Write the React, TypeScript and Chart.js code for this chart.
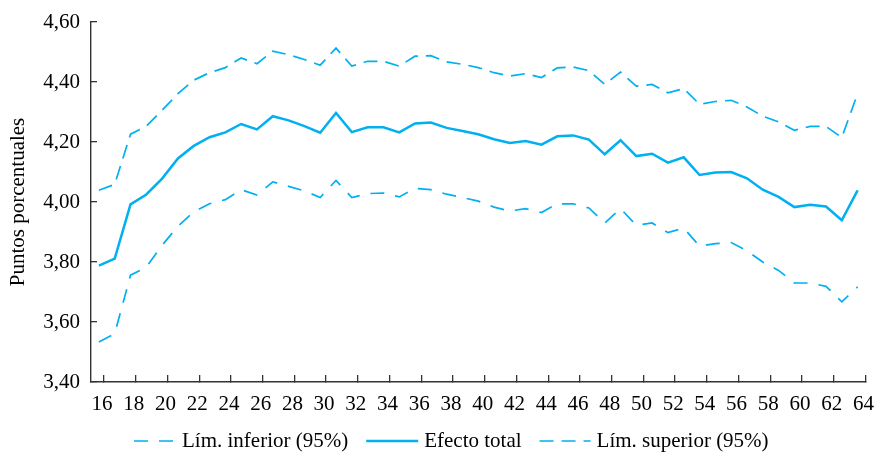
import { useEffect, useRef } from 'react';
import { Chart, registerables } from 'chart.js';

Chart.register(...registerables);

const ages = [16, 17, 18, 19, 20, 21, 22, 23, 24, 25, 26, 27, 28, 29, 30, 31, 32, 33, 34, 35, 36, 37, 38, 39, 40, 41, 42, 43, 44, 45, 46, 47, 48, 49, 50, 51, 52, 53, 54, 55, 56, 57, 58, 59, 60, 61, 62, 63, 64];

const lowerBound = [3.533, 3.561, 3.756, 3.783, 3.856, 3.919, 3.967, 3.994, 4.008, 4.041, 4.023, 4.067, 4.052, 4.037, 4.015, 4.072, 4.015, 4.028, 4.030, 4.017, 4.045, 4.041, 4.026, 4.015, 4.003, 3.983, 3.970, 3.978, 3.965, 3.994, 3.994, 3.980, 3.930, 3.978, 3.922, 3.930, 3.898, 3.913, 3.853, 3.861, 3.865, 3.837, 3.800, 3.772, 3.730, 3.730, 3.719, 3.667, 3.717];

const totalEffect = [3.788, 3.811, 3.992, 4.025, 4.078, 4.145, 4.187, 4.216, 4.232, 4.260, 4.242, 4.286, 4.272, 4.253, 4.231, 4.297, 4.233, 4.249, 4.249, 4.232, 4.262, 4.265, 4.247, 4.237, 4.226, 4.209, 4.197, 4.203, 4.191, 4.219, 4.222, 4.208, 4.159, 4.206, 4.153, 4.161, 4.131, 4.149, 4.090, 4.098, 4.100, 4.079, 4.041, 4.017, 3.983, 3.991, 3.985, 3.939, 4.039];

const upperBound = [4.039, 4.059, 4.226, 4.253, 4.306, 4.361, 4.406, 4.431, 4.448, 4.480, 4.461, 4.503, 4.491, 4.475, 4.456, 4.513, 4.453, 4.469, 4.469, 4.453, 4.486, 4.488, 4.467, 4.459, 4.448, 4.431, 4.420, 4.428, 4.415, 4.447, 4.450, 4.438, 4.392, 4.433, 4.386, 4.392, 4.364, 4.378, 4.326, 4.335, 4.339, 4.317, 4.286, 4.267, 4.239, 4.252, 4.252, 4.215, 4.361];

const xTickValues = [16, 18, 20, 22, 24, 26, 28, 30, 32, 34, 36, 38, 40, 42, 44, 46, 48, 50, 52, 54, 56, 58, 60, 62, 64];
const yTickValues = [3.4, 3.6, 3.8, 4.0, 4.2, 4.4, 4.6];

const seriesNames = ['Lím. inferior (95%)', 'Efecto total', 'Lím. superior (95%)'];
const yAxisTitle = 'Puntos porcentuales';

const FONT = '"Liberation Serif", "Times New Roman", serif';
const LINE_COLOR = '#00B0F0';
const AXIS_COLOR = '#333333';

const bottomLegend = {
  id: 'bottomLegend',
  afterDraw(chart: any) {
    const { ctx } = chart;
    const y = 441;
    const sampleWidths = [42, 52, 51];
    let x = 134;
    ctx.save();
    ctx.font = `21px ${FONT}`;
    ctx.textBaseline = 'middle';
    ctx.textAlign = 'left';
    chart.data.datasets.forEach((ds: any, i: number) => {
      ctx.save();
      ctx.strokeStyle = ds.borderColor;
      ctx.lineWidth = ds.borderWidth;
      ctx.setLineDash(ds.borderDash || []);
      ctx.beginPath();
      ctx.moveTo(x, y);
      ctx.lineTo(x + sampleWidths[i], y);
      ctx.stroke();
      ctx.restore();
      x += sampleWidths[i] + 6;
      ctx.fillStyle = '#000';
      ctx.fillText(ds.label, x, y);
      x += ctx.measureText(ds.label).width + 18;
    });
    ctx.restore();
  },
};

export default function App() {
  const canvasRef = useRef<HTMLCanvasElement | null>(null);

  useEffect(() => {
    if (!canvasRef.current) return;
    Chart.defaults.font.family = FONT;
    const toPoints = (vals: number[]) => ages.map((a, i) => ({ x: a, y: vals[i] }));
    const chart = new Chart(canvasRef.current, {
      type: 'line',
      data: {
        datasets: [
          {
            label: seriesNames[0],
            data: toPoints(lowerBound),
            borderColor: LINE_COLOR,
            borderWidth: 1.7,
            borderDash: [14, 11],
            pointRadius: 0,
            fill: false,
            tension: 0,
            xAxisID: 'x',
            yAxisID: 'y',
          },
          {
            label: seriesNames[1],
            data: toPoints(totalEffect),
            borderColor: LINE_COLOR,
            borderWidth: 2.5,
            pointRadius: 0,
            fill: false,
            tension: 0,
            xAxisID: 'x',
            yAxisID: 'y',
          },
          {
            label: seriesNames[2],
            data: toPoints(upperBound),
            borderColor: LINE_COLOR,
            borderWidth: 1.7,
            borderDash: [14, 8],
            pointRadius: 0,
            fill: false,
            tension: 0,
            xAxisID: 'x',
            yAxisID: 'y',
          },
        ],
      },
      options: {
        animation: false,
        responsive: false,
        layout: { padding: { top: 22, right: 8.5, bottom: 0, left: 0 } },
        plugins: {
          legend: { display: false },
          tooltip: { enabled: false },
        },
        scales: {
          x: {
            type: 'linear',
            display: false,
            min: 15.5,
            max: 64.5,
          },
          x2: {
            type: 'linear',
            position: 'bottom',
            min: 15.18,
            max: 64,
            afterBuildTicks: (scale: any) => {
              scale.ticks = xTickValues.map((v) => ({ value: v }));
            },
            afterFit: (scale: any) => {
              scale.height = 71;
              scale.paddingLeft = 0;
              scale.paddingRight = 0;
            },
            border: { display: true, color: AXIS_COLOR, width: 1.4 },
            grid: {
              display: true,
              drawOnChartArea: false,
              drawTicks: true,
              tickLength: -7,
              color: AXIS_COLOR,
              lineWidth: 1.3,
            },
            ticks: {
              autoSkip: false,
              maxRotation: 0,
              padding: 17,
              labelOffset: -2,
              color: '#000',
              font: { size: 21, family: FONT },
              callback: (v: any) => String(v),
            },
          },
          y: {
            type: 'linear',
            position: 'left',
            min: 3.4,
            max: 4.6,
            afterBuildTicks: (scale: any) => {
              scale.ticks = yTickValues.map((v) => ({ value: v }));
            },
            afterFit: (scale: any) => {
              scale.width = 91;
              scale.paddingTop = 0;
              scale.paddingBottom = 0;
            },
            border: { display: true, color: AXIS_COLOR, width: 1.4 },
            grid: {
              display: true,
              drawOnChartArea: false,
              drawTicks: true,
              tickLength: -6,
              color: AXIS_COLOR,
              lineWidth: 1.3,
            },
            ticks: {
              padding: 17,
              color: '#000',
              font: { size: 21, family: FONT },
              callback: (v: any) => Number(v).toFixed(2).replace('.', ','),
            },
            title: {
              display: true,
              text: yAxisTitle,
              color: '#000',
              font: { size: 21, family: FONT },
              padding: { top: 6, bottom: 0 },
            },
          },
        },
      },
      plugins: [bottomLegend],
    });
    return () => chart.destroy();
  }, []);

  return (
    <div style={{ position: 'absolute', left: 0, top: 0, width: 874, height: 453, background: '#fff' }}>
      <canvas ref={canvasRef} width={874} height={453} />
    </div>
  );
}
